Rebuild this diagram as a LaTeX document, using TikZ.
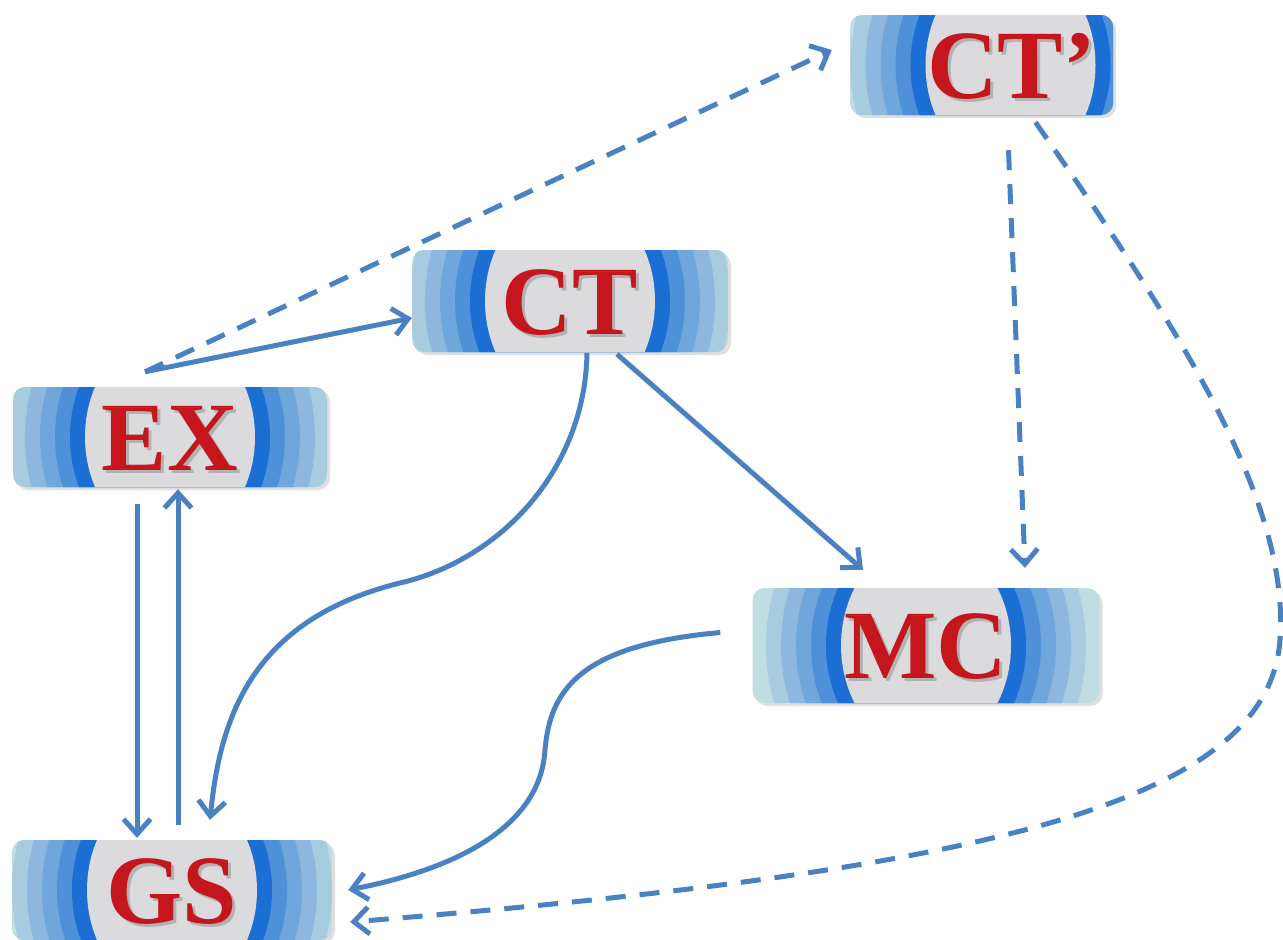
\documentclass[tikz,border=0pt]{standalone}
\usepackage{fontspec}
\setmainfont{Liberation Serif}
\usetikzlibrary{arrows.meta,calc,shadows}
\definecolor{lineblue}{HTML}{4A81C2}
\definecolor{bandA}{HTML}{1B6ED3}
\definecolor{bandB}{HTML}{4F91D9}
\definecolor{bandC}{HTML}{6FA6DC}
\definecolor{bandD}{HTML}{8DB7DE}
\definecolor{bandE}{HTML}{A7CCE0}
\definecolor{bandF}{HTML}{C0DDE3}
\definecolor{centergray}{HTML}{DBDBDE}
\definecolor{txtred}{HTML}{C4161C}
\newcommand\shtxt[1]{\makebox[0pt][l]{\kern3pt\raisebox{-3pt}{\textcolor{black!30}{#1}}}#1}
\tikzset{
  bandshift/.store in=\bandshift, bandshift=0,
  blk/.style={rounded corners=12pt, fill=bandF, inner sep=0pt,
    text height=66pt, text depth=0pt,
    font=\bfseries\fontsize{98}{98}\selectfont, text=txtred,
    drop shadow={shadow xshift=3pt,shadow yshift=-3pt,opacity=0.25},
    path picture={
      \coordinate (bc) at ($(path picture bounding box.center)+(\bandshift,0)$);
      \foreach \a/\b/\c in {160pt/181pt/bandE,145pt/166pt/bandD,130pt/151pt/bandC,115pt/136pt/bandB,100pt/121pt/bandA,85pt/106pt/centergray}
        \fill[\c] (bc) ellipse [x radius=\a, y radius=\b];
    }},
  arr/.style={draw=lineblue, line width=5pt, -{Straight Barb[length=15pt,width=27pt]}},
  dsh/.style={dash pattern=on 20pt off 14pt},
}
\begin{document}
\begin{tikzpicture}[x=1pt,y=-1pt]
\useasboundingbox (0,0) rectangle (1283,940);
% nodes
\node[blk, bandshift=29, minimum width=263pt, minimum height=100pt] (CTp) at (981.5,65) {\hspace*{60pt}\shtxt{CT’}};
\node[blk, minimum width=316pt, minimum height=102pt] (CT) at (570,301) {\shtxt{CT}};
\node[blk, minimum width=314pt, minimum height=100pt] (EX) at (170,437) {\shtxt{EX}};
\node[blk, minimum width=347pt, minimum height=115pt] (MC) at (926,645.5) {\shtxt{MC}};
\node[blk, minimum width=320pt, minimum height=100pt] (GS) at (172,890) {\shtxt{GS}};
% connectors
\coordinate (exsrc) at ($(EX.north)+(-25,-15)$);
\draw[arr] (exsrc) -- ($(CT.west)+(0,17)$);
\draw[arr,dsh] (exsrc) -- ($(CTp.west)+(-18,-15)$);
\draw[arr] ($(CT.south)+(47,2)$) -- ($(MC.north)+(-63,-18)$);
\draw[arr] ($(CT.south)+(17,1)$) .. controls (585,470) and (500,560) .. (400,583)
   .. controls (250,620) and (220,720) .. ($(GS.north)+(38,-20)$);
\draw[arr] ($(EX.south)+(-33,17)$) -- ($(GS.north)+(-35,-2)$);
\draw[arr] ($(GS.north)+(6,-15)$) -- ($(EX.south)+(8,2)$);
\draw[arr,dsh] ($(CTp.south)+(27,35)$) -- ($(MC.north)+(99,-20)$);
\draw[arr,dsh] ($(CTp.south)+(54,7)$) .. controls (1180,330) and (1290,500) .. (1280,640)
   .. controls (1268,800) and (1000,870) .. ($(GS.east)+(18,32)$);
\draw[arr] ($(MC.west)+(-32,-13)$) .. controls (580,645) and (550,690) .. (545,750)
   .. controls (540,830) and (450,870) .. ($(GS.east)+(16,0)$);
\end{tikzpicture}
\end{document}
